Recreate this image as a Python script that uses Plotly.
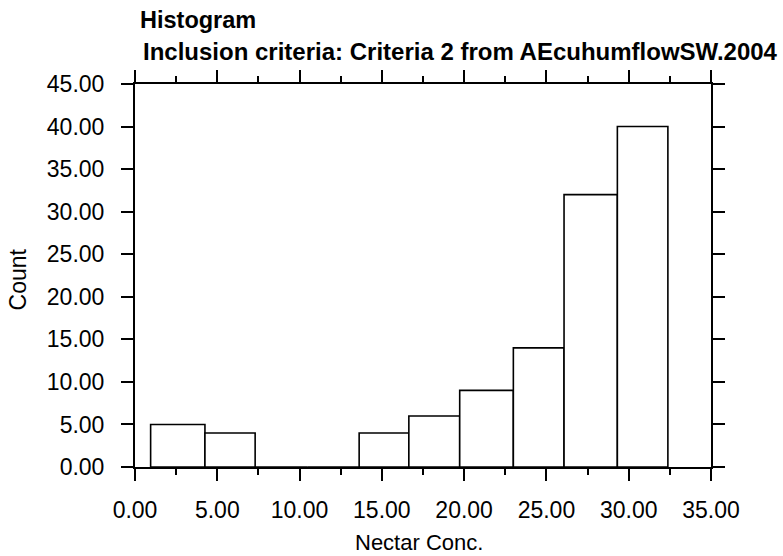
import plotly.graph_objects as go

bin_edges = [0.95, 4.25, 7.30, 10.46, 13.62, 16.64, 19.73, 22.99, 26.07, 29.31, 32.38]
counts = [5, 4, 0, 0, 4, 6, 9, 14, 32, 40]
x_ticks = [0, 5, 10, 15, 20, 25, 30, 35]
y_ticks = [0, 5, 10, 15, 20, 25, 30, 35, 40, 45]

centers = [(a + b) / 2 for a, b in zip(bin_edges[:-1], bin_edges[1:])]
widths = [b - a for a, b in zip(bin_edges[:-1], bin_edges[1:])]

FONT = "Liberation Sans, Arial, sans-serif"

fig = go.Figure(go.Bar(
    x=centers, y=counts, width=widths,
    marker=dict(color="white", line=dict(color="black", width=1.6)),
))

fig.update_layout(
    width=783, height=556,
    margin=dict(l=135, r=72, t=84, b=89),
    paper_bgcolor="white", plot_bgcolor="white",
    showlegend=False,
    font=dict(family=FONT, color="black", size=23),
    annotations=[
        dict(text="<b>Histogram</b>", x=0.005, y=1.1676, xref="paper", yref="paper",
             xanchor="left", yanchor="middle", showarrow=False, font=dict(size=23.5)),
        dict(text="<b>Inclusion criteria: Criteria 2 from AEcuhumflowSW.2004</b>", x=0.011, y=1.0841,
             xref="paper", yref="paper", xanchor="left", yanchor="middle", showarrow=False,
             font=dict(size=24)),
        dict(text="Nectar Conc.", x=0.493, y=-0.1984, xref="paper", yref="paper",
             xanchor="center", yanchor="middle", showarrow=False, font=dict(size=22)),
        dict(text="Count", x=-0.203, y=0.49, xref="paper", yref="paper", textangle=-90,
             xanchor="center", yanchor="middle", showarrow=False, font=dict(size=23)),
    ],
)

fig.update_xaxes(
    range=[0, 35], tickvals=x_ticks, ticktext=[f"{v:.2f}" for v in x_ticks],
    showgrid=False, zeroline=False, showline=True, linecolor="black", linewidth=2,
    mirror="ticks", ticks="outside", ticklen=12, tickwidth=2, tickcolor="black",
    ticklabelstandoff=9, tickfont=dict(size=23),
    minor=dict(dtick=2.5, tick0=0, ticks="outside", ticklen=6, tickwidth=2, tickcolor="black", showgrid=False),
)
fig.update_yaxes(
    range=[0, 45], tickvals=y_ticks, ticktext=[f"{v:.2f}" for v in y_ticks],
    showgrid=False, zeroline=False, showline=True, linecolor="black", linewidth=2,
    mirror="ticks", ticks="outside", ticklen=12, tickwidth=2, tickcolor="black",
    ticklabelstandoff=12, tickfont=dict(size=23),
)

fig.write_html("out.html", config={"displayModeBar": False},
               post_script="document.body.style.margin='0px';")
